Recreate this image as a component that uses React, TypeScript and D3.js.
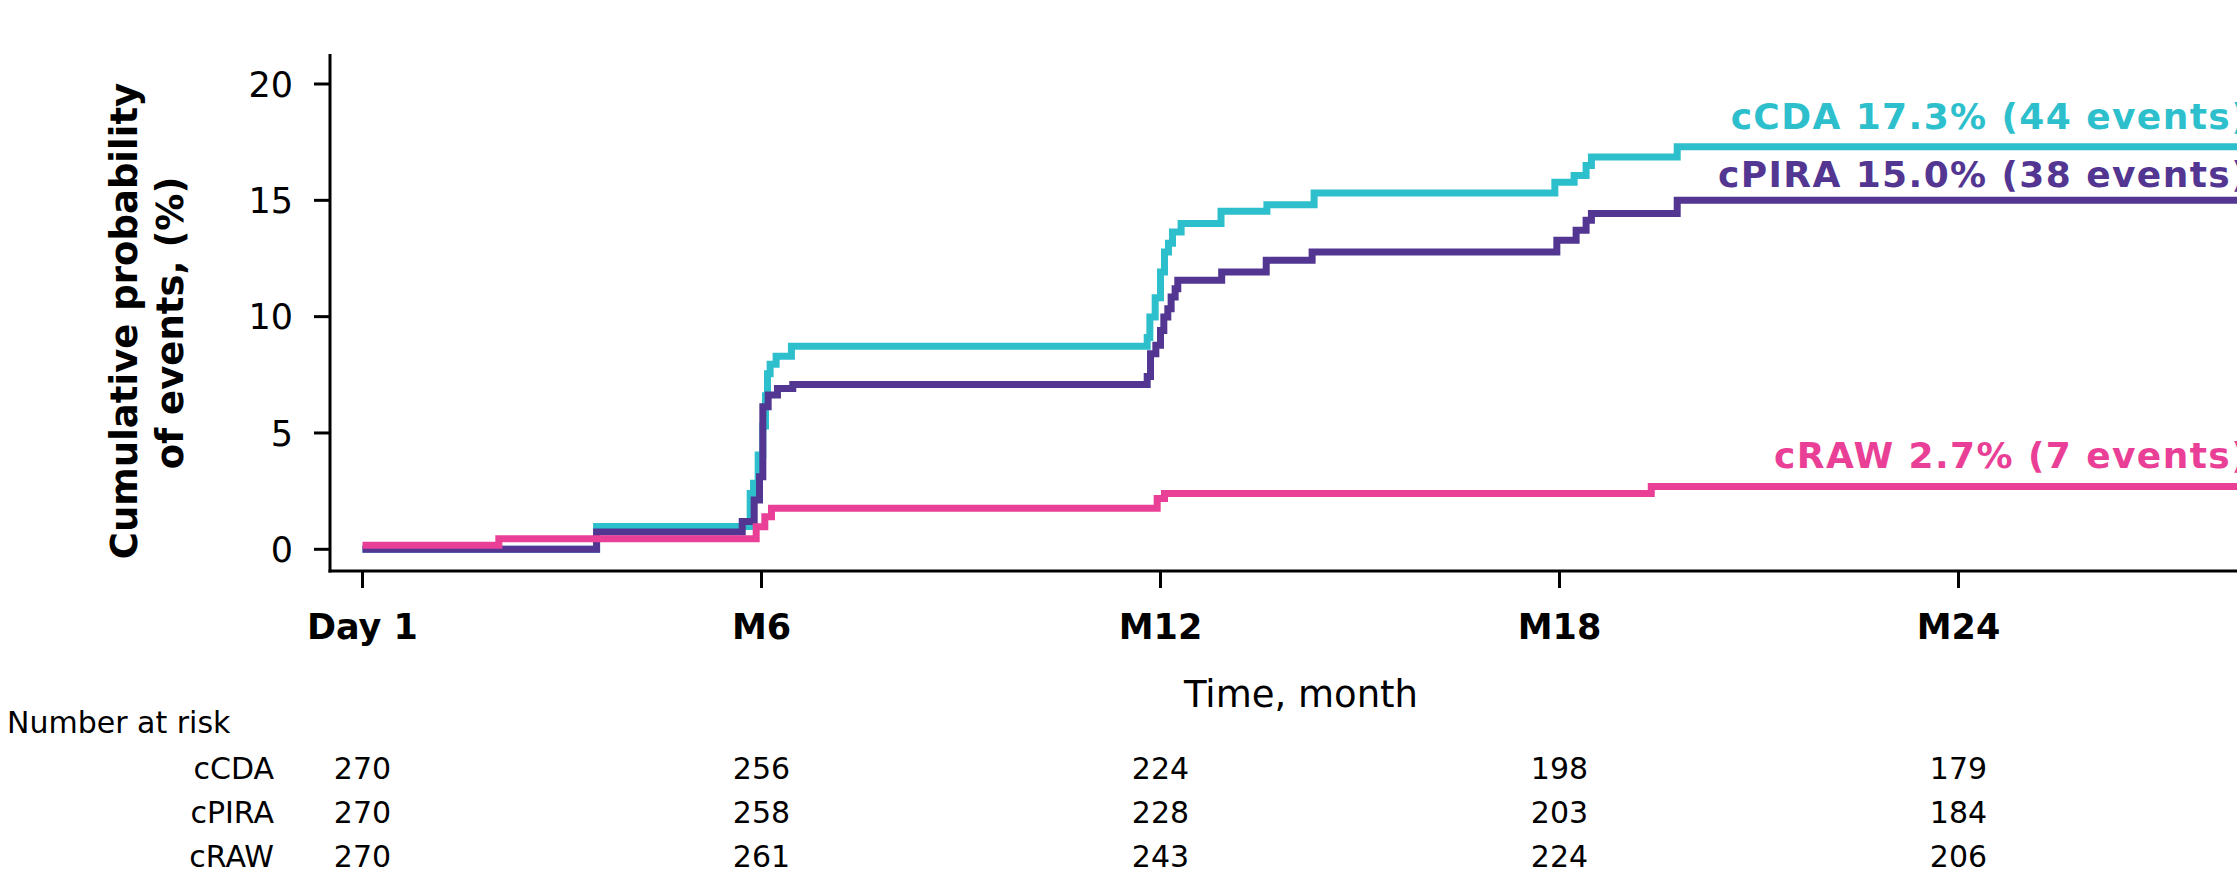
import React from 'react';
import * as d3 from 'd3';

const WIDTH = 2237;
const HEIGHT = 874;

// Axis ticks
const xTickMonths = [0, 6, 12, 18, 24];
const xTickLabels = ['Day 1', 'M6', 'M12', 'M18', 'M24'];
const yTicks = [0, 5, 10, 15, 20];

// Last month of follow-up drawn for each curve
const FOLLOW_UP_END = 30;

// Cumulative probability of events (%), step times in months
const ccdaMonths = [0, 3.52, 5.83, 5.88, 5.95, 6.02, 6.06, 6.09, 6.13, 6.22, 6.45, 11.8, 11.84, 11.92, 12.0, 12.06, 12.12, 12.18, 12.31, 12.91, 13.6, 14.31, 17.93, 18.22, 18.4, 18.48, 19.77];
const ccdaPct = [0, 0.98, 2.4, 2.84, 4.05, 5.3, 6.6, 7.55, 7.95, 8.3, 8.73, 9.1, 9.98, 10.81, 11.92, 12.78, 13.16, 13.64, 14.0, 14.53, 14.81, 15.31, 15.78, 16.07, 16.5, 16.86, 17.3];

const cpiraMonths = [0, 3.52, 5.71, 5.89, 5.97, 6.02, 6.1, 6.24, 6.47, 11.8, 11.85, 11.93, 12.0, 12.05, 12.11, 12.16, 12.22, 12.26, 12.92, 13.59, 14.28, 17.96, 18.25, 18.4, 18.48, 19.77];
const cpiraPct = [0, 0.74, 1.19, 2.12, 3.12, 6.13, 6.63, 6.91, 7.08, 7.43, 8.41, 8.77, 9.41, 9.98, 10.34, 10.84, 11.2, 11.56, 11.92, 12.42, 12.78, 13.28, 13.71, 14.14, 14.43, 15.0];

const crawMonths = [0, 2.05, 5.92, 6.05, 6.15, 11.95, 12.06, 19.38];
const crawPct = [0.17, 0.45, 0.97, 1.4, 1.76, 2.18, 2.4, 2.7];

// End-of-follow-up summary per series
const seriesNames = ['cCDA', 'cPIRA', 'cRAW'];
const seriesColors = ['#2ebfcd', '#523691', '#e93f96'];
const finalPct = [17.3, 15.0, 2.7];
const finalEvents = [44, 38, 7];

// Number at risk at each labelled time point
const riskMonths = [0, 6, 12, 18, 24];
const ccdaRisk = [270, 256, 224, 198, 179];
const cpiraRisk = [270, 258, 228, 203, 184];
const crawRisk = [270, 261, 243, 224, 206];

const FONT = "'DejaVu Sans', Verdana, sans-serif";

function toSteps(months: number[], pct: number[]): [number, number][] {
  const pts: [number, number][] = months.map((m, i) => [m, pct[i]]);
  pts.push([FOLLOW_UP_END, pct[pct.length - 1]]);
  return pts;
}

export default function App() {
  const x = d3.scaleLinear().domain([0, 24]).range([362.5, 1958.5]);
  const y = d3.scaleLinear().domain([0, 20]).range([549.3, 84]);

  const axisLeft = 330;
  const axisBottom = 571;

  const line = d3
    .line<[number, number]>()
    .x((d) => x(d[0]))
    .y((d) => y(d[1]))
    .curve(d3.curveStepAfter);

  const curves = [
    toSteps(ccdaMonths, ccdaPct),
    toSteps(cpiraMonths, cpiraPct),
    toSteps(crawMonths, crawPct),
  ];
  const labelOffsets = [18, 13, 18];
  const riskRows = [ccdaRisk, cpiraRisk, crawRisk];
  const riskBaselines = [779, 823, 867];

  return (
    <svg
      width={WIDTH}
      height={HEIGHT}
      style={{ position: 'absolute', left: 0, top: 0, display: 'block', background: '#fff' }}
      fontFamily={FONT}
    >
      {/* y axis title */}
      <text
        transform={`translate(137,321) rotate(-90)`}
        textAnchor="middle"
        fontWeight="bold"
        fontSize={37}
        fill="#000"
      >
        Cumulative probability
      </text>
      <text
        transform={`translate(183,323) rotate(-90)`}
        textAnchor="middle"
        fontWeight="bold"
        fontSize={37}
        fill="#000"
      >
        of events, (%)
      </text>

      {/* y axis */}
      <line x1={axisLeft} x2={axisLeft} y1={54} y2={axisBottom + 1.5} stroke="#000" strokeWidth={3} />
      {yTicks.map((t) => (
        <g key={`yt${t}`}>
          <line x1={axisLeft - 16} x2={axisLeft} y1={y(t)} y2={y(t)} stroke="#000" strokeWidth={3} />
          <text x={293} y={y(t)} dy="0.36em" textAnchor="end" fontSize={35} fill="#000">
            {t}
          </text>
        </g>
      ))}

      {/* x axis */}
      <line x1={axisLeft - 1.5} x2={WIDTH} y1={axisBottom} y2={axisBottom} stroke="#000" strokeWidth={3} />
      {xTickMonths.map((m, i) => (
        <g key={`xt${m}`}>
          <line x1={x(m)} x2={x(m)} y1={axisBottom} y2={axisBottom + 17} stroke="#000" strokeWidth={3} />
          <text x={x(m)} y={639} textAnchor="middle" fontWeight="bold" fontSize={35} fill="#000">
            {xTickLabels[i]}
          </text>
        </g>
      ))}
      <text x={1301} y={707} textAnchor="middle" fontSize={37} fill="#000">
        Time, month
      </text>

      {/* cumulative incidence curves */}
      {curves.map((pts, i) => (
        <path
          key={seriesNames[i]}
          d={line(pts) || ''}
          fill="none"
          stroke={seriesColors[i]}
          strokeWidth={7}
          strokeLinejoin="miter"
          strokeLinecap="butt"
        />
      ))}

      {/* end labels */}
      {seriesNames.map((name, i) => (
        <text
          key={`lab${name}`}
          x={2249}
          y={y(finalPct[i]) - labelOffsets[i]}
          textAnchor="end"
          fontWeight="bold"
          fontSize={36}
          letterSpacing={1.4}
          fill={seriesColors[i]}
        >
          {`${name} ${finalPct[i].toFixed(1)}% (${finalEvents[i]} events)`}
        </text>
      ))}

      {/* number at risk table */}
      <text x={7} y={733} fontSize={30} fill="#000">
        Number at risk
      </text>
      {seriesNames.map((name, r) => (
        <g key={`risk${name}`}>
          <text x={274} y={riskBaselines[r]} textAnchor="end" fontSize={30} fill="#000">
            {name}
          </text>
          {riskMonths.map((m, c) => (
            <text key={`r${name}${m}`} x={x(m)} y={riskBaselines[r]} textAnchor="middle" fontSize={30} fill="#000">
              {riskRows[r][c]}
            </text>
          ))}
        </g>
      ))}
    </svg>
  );
}
